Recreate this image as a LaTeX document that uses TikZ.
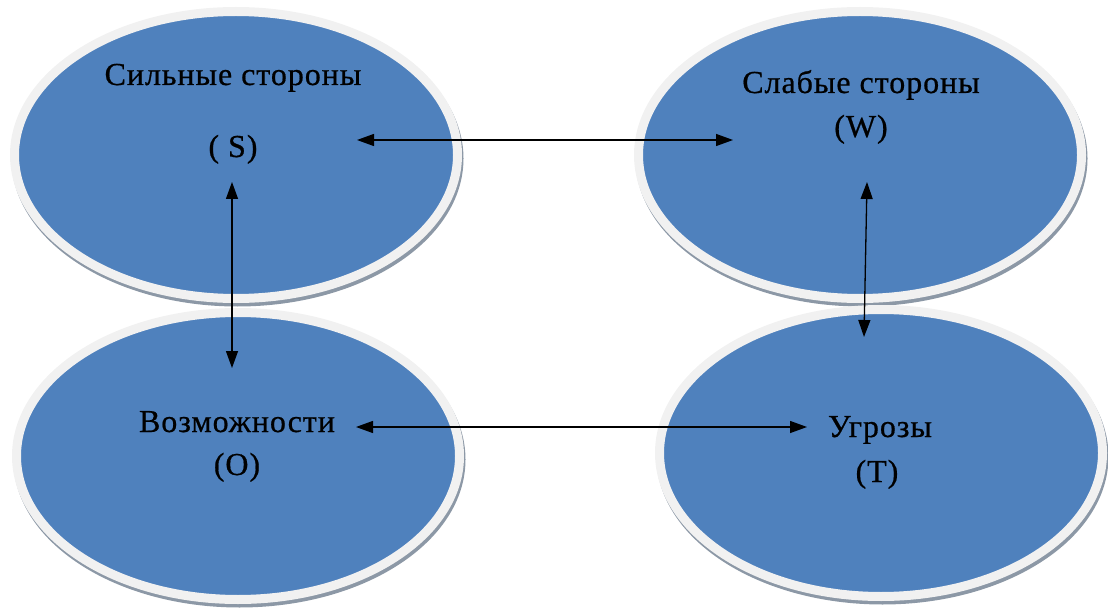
\documentclass[tikz,border=0pt]{standalone}
\usepackage{fontspec}
\setmainfont{Liberation Serif}[LetterSpace=3,FakeBold=0.6]
\usetikzlibrary{shapes.geometric,arrows.meta}
\definecolor{swotblue}{RGB}{79,129,189}
\definecolor{ringc}{RGB}{241,241,241}
\definecolor{shadowc}{RGB}{140,152,166}
\tikzset{
  bubble/.style={ellipse, inner sep=0pt, minimum width=443pt, minimum height=287pt,
    fill=swotblue, draw=ringc, line width=9pt,
    preaction={draw=shadowc, line width=9pt, transform canvas={xshift=1.5pt,yshift=-3.5pt}}},
  lbl/.style={anchor=base, inner sep=0pt, font=\fontsize{32}{38}\selectfont},
  link/.style={{Triangle[length=17pt,width=12pt]}-{Triangle[length=17pt,width=12pt]}, line width=1.3pt, black}
}
\begin{document}
\begin{tikzpicture}[x=1pt,y=-1pt]
\useasboundingbox (0,0) rectangle (1108,612);
\node[bubble] (S) at (236,155) {};
\node[bubble] (W) at (860,155) {};
\node[bubble] (O) at (238,456) {};
\node[bubble] (T) at (881,453) {};

\node[lbl] (S1) at (233,85) {Сильные стороны};
\node[lbl] (S2) at (233,157) {( S)};
\node[lbl] (W1) at (861,93) {Слабые стороны};
\node[lbl] (W2) at (861,137) {(W)};
\node[lbl] (O1) at (237,432) {Возможности};
\node[lbl] (O2) at (237,475) {(O)};
\node[lbl] (T1) at (880,437) {Угрозы};
\node[lbl] (T2) at (877,482) {(T)};

\coordinate (sr) at (357,140);
\coordinate (wl) at (733,140);
\coordinate (sb) at (232,182);
\coordinate (ot) at (232,368);
\coordinate (or) at (356,427);
\coordinate (tl) at (807,427);
\coordinate (wb) at (867,182);
\coordinate (tt) at (864,337);

\draw[link] (sr) -- (wl);
\draw[link] (sb) -- (ot);
\draw[link] (or) -- (tl);
\draw[link] (wb) -- (tt);
\end{tikzpicture}
\end{document}
